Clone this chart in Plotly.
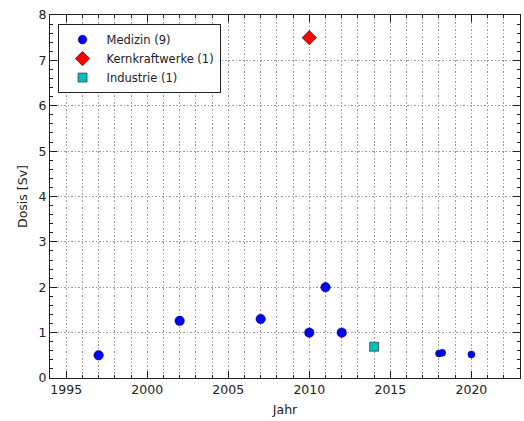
import plotly.graph_objects as go

# Data
med_year = [1997, 2002, 2007, 2010, 2011, 2012, 2018.0, 2018.2, 2020]
med_dose = [0.50, 1.26, 1.30, 1.00, 2.00, 1.00, 0.54, 0.555, 0.52]
med_size = [9.5, 9.5, 9.5, 9.5, 9.5, 9.5, 7, 7, 7]
kkw_year = [2010]
kkw_dose = [7.5]
ind_year = [2014]
ind_dose = [0.69]

x_ticks = [1995, 2000, 2005, 2010, 2015, 2020]
y_ticks = [0, 1, 2, 3, 4, 5, 6, 7, 8]

fig = go.Figure()
fig.add_trace(go.Scatter(x=med_year, y=med_dose, mode="markers", name="Medizin (9)",
                         marker=dict(color="#0000ff", size=med_size, symbol="circle", opacity=1,
                                     line=dict(color="#00003a", width=0.5))))
fig.add_trace(go.Scatter(x=kkw_year, y=kkw_dose, mode="markers", name="Kernkraftwerke (1)",
                         marker=dict(color="#ff0000", size=11, symbol="diamond", opacity=1,
                                     line=dict(color="#440000", width=0.7))))
fig.add_trace(go.Scatter(x=ind_year, y=ind_dose, mode="markers", name="Industrie (1)",
                         marker=dict(color="#00bfbf", size=9, symbol="square", opacity=1,
                                     line=dict(color="#333333", width=0.7))))

grid_col = "#9a9a9a"
grid_dash = "1.5px,2px"
fig.update_layout(
    width=524, height=421,
    margin=dict(l=50, r=4, t=15, b=43),
    paper_bgcolor="white", plot_bgcolor="white",
    font=dict(family="DejaVu Sans", size=12.5, color="#222"),
    legend=dict(x=0.016, y=0.975, xanchor="left", yanchor="top",
                bgcolor="white", bordercolor="#222", borderwidth=1,
                font=dict(size=11.5), itemwidth=38),
    showlegend=True,
)
fig.update_xaxes(
    range=[1994, 2023], tickvals=x_ticks, ticks="inside", ticklen=7, tickcolor="#222",
    showline=True, linecolor="#222", linewidth=1, mirror="ticks",
    showgrid=True, gridcolor=grid_col, griddash=grid_dash, gridwidth=1,
    zeroline=False,
    minor=dict(dtick=1, tick0=1994, ticks="inside", ticklen=3, tickcolor="#222",
               showgrid=True, gridcolor=grid_col, griddash=grid_dash, gridwidth=1),
    title=dict(text="Jahr", standoff=9, font=dict(size=12.5)),
)
fig.update_yaxes(
    range=[0, 8], tickvals=y_ticks, ticks="inside", ticklen=7, tickcolor="#222",
    showline=True, linecolor="#222", linewidth=1, mirror="ticks",
    showgrid=True, gridcolor=grid_col, griddash=grid_dash, gridwidth=1,
    zeroline=False,
    minor=dict(dtick=0.2, tick0=0, ticks="inside", ticklen=3, tickcolor="#222", showgrid=False),
    title=dict(text="Dosis [Sv]", standoff=8, font=dict(size=12.5)),
)
fig.write_html("out.html")
